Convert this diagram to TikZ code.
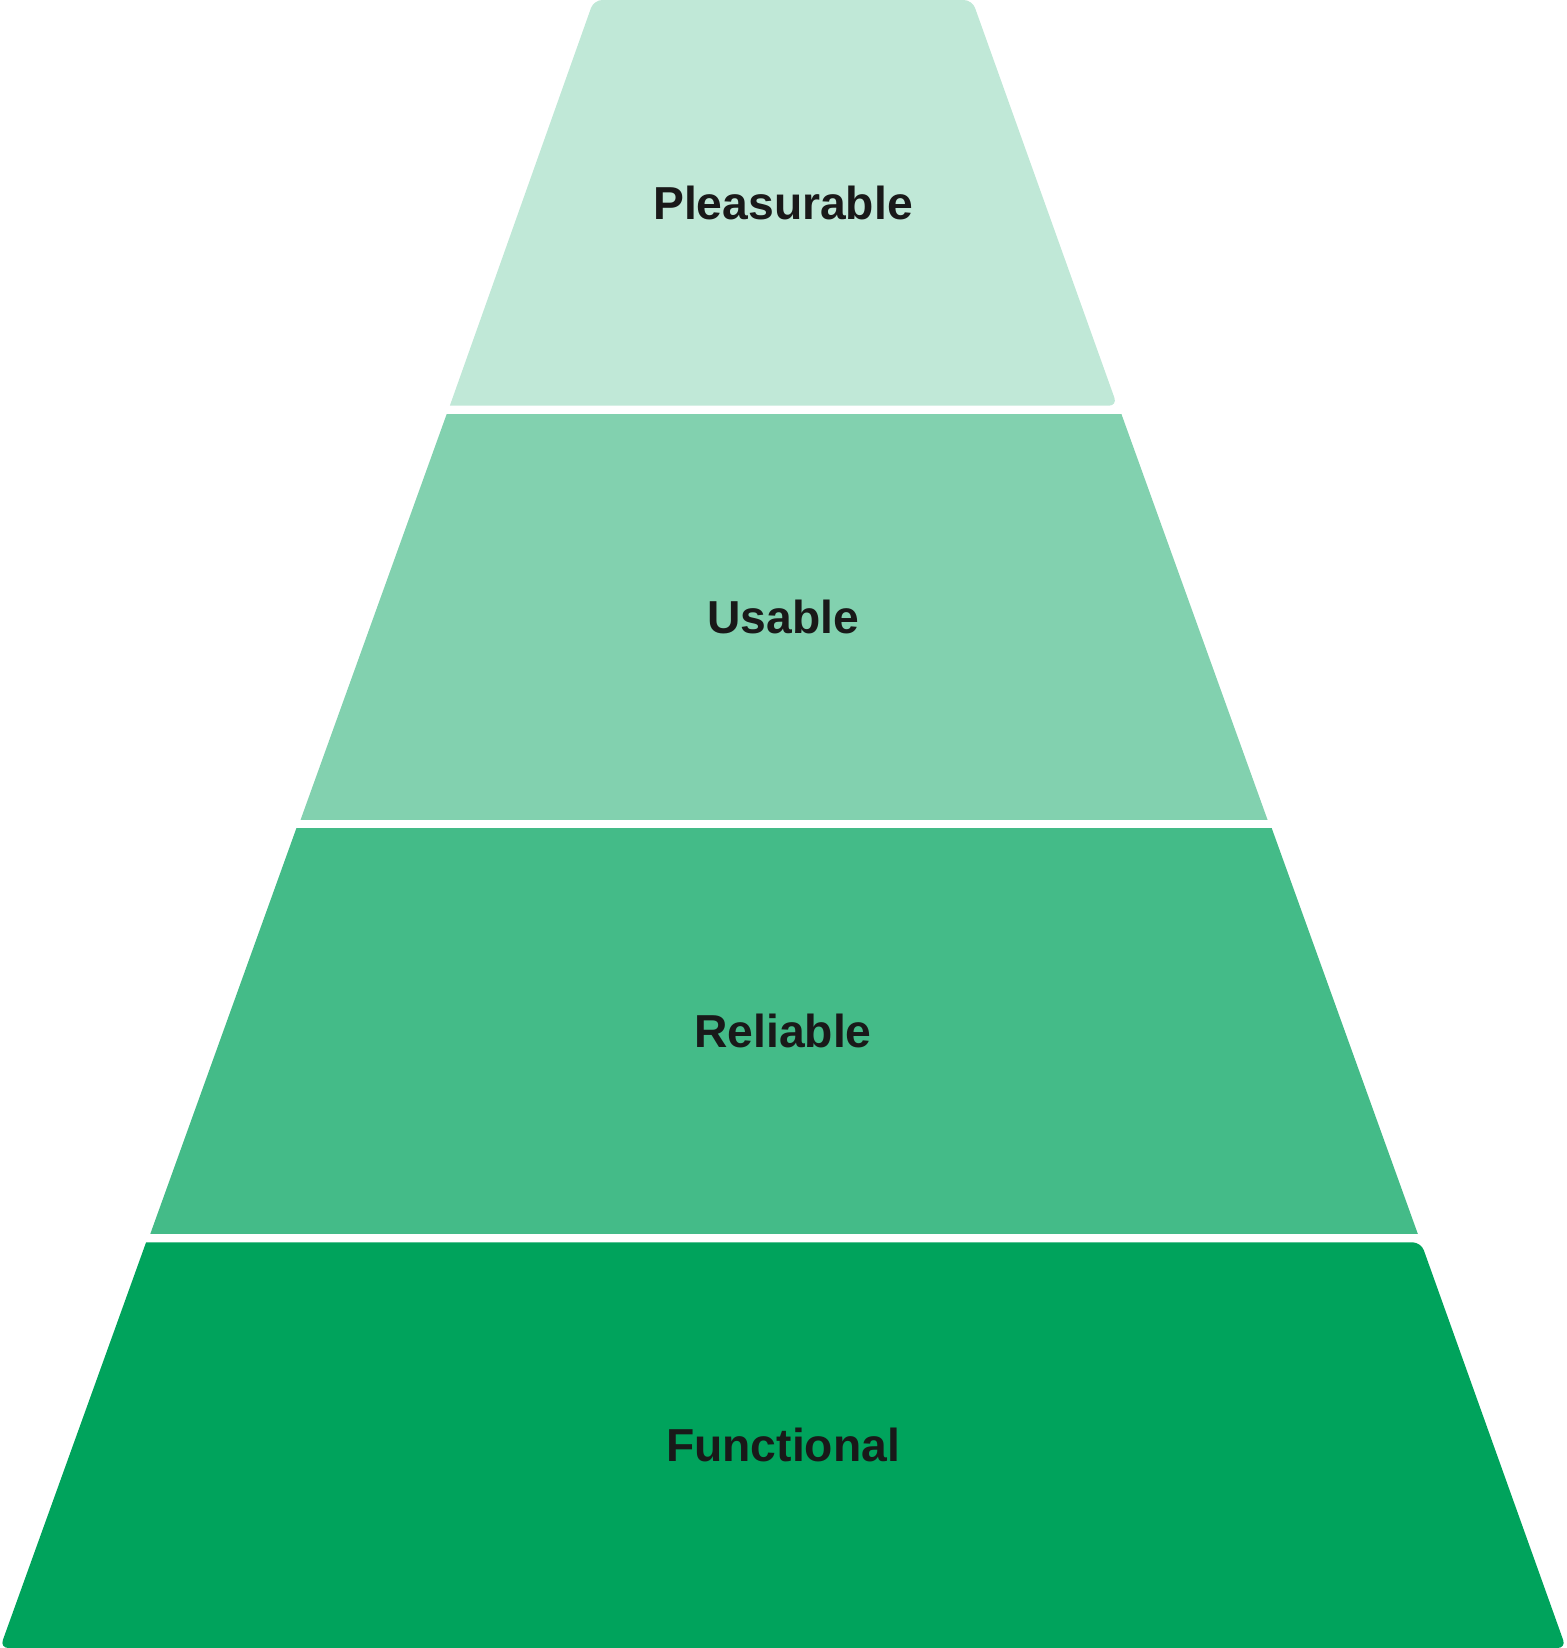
\documentclass[tikz,border=0pt]{standalone}
\usepackage{fontspec}
\setmainfont{Liberation Sans}
\definecolor{c1}{HTML}{C0E8D7}
\definecolor{c2}{HTML}{82D1AF}
\definecolor{c3}{HTML}{44BB88}
\definecolor{c4}{HTML}{00A35C}
\begin{document}
\begin{tikzpicture}[x=1pt,y=-1pt,
  lbl/.style={font=\fontsize{44}{50}\selectfont\bfseries, text=black!90}]
\useasboundingbox (0,0) rectangle (1490,1568);
\fill[c1] (428,386) {[rounded corners=8pt] -- (565,0) -- (925,0) -- (1063,386)} -- cycle;
\fill[c2] (286,780) -- (425,394) -- (1067,394) -- (1206,780) -- cycle;
\fill[c3] (143,1174) -- (282,788) -- (1210,788) -- (1349,1174) -- cycle;
\fill[c4] (139,1182) {[rounded corners=8pt] -- (0,1568) -- (1490,1568) -- (1352,1182)} -- cycle;
\node[lbl] (p) at (745,193) {Pleasurable};
\node[lbl] (u) at (745,587) {Usable};
\node[lbl] (r) at (745,981) {Reliable};
\node[lbl] (f) at (745,1375) {Functional};
\end{tikzpicture}
\end{document}
